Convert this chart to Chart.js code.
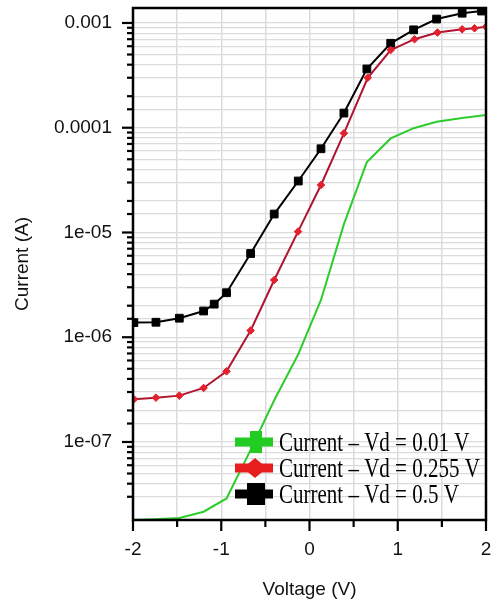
<!DOCTYPE html>
<html>
<head>
<meta charset="utf-8">
<title>Current vs Voltage</title>
<script src="https://cdn.jsdelivr.net/npm/chart.js@4/dist/chart.umd.min.js"></script>
<style>
  html, body { margin: 0; padding: 0; background: #fff; }
  canvas { display: block; }
</style>
</head>
<body>
<canvas id="iv-chart" width="493" height="606"></canvas>
<script>
// Mesures I(V) pour trois tensions de drain
const voltageLow = [-2, -1.74, -1.475, -1.2, -0.94, -0.667, -0.4, -0.13, 0.13, 0.39, 0.65, 0.92, 1.18, 1.44, 1.73, 2.0];
const currentLow = [1.8e-8, 1.83e-8, 1.88e-8, 2.16e-8, 2.89e-8, 8.4e-8, 2.5e-7, 6.8e-7, 2.27e-6, 1.2e-5, 4.7e-5, 7.9e-5, 9.9e-5, 1.14e-4, 1.24e-4, 1.32e-4];

const voltageMid = [-1.99, -1.74, -1.475, -1.2, -0.94, -0.667, -0.4, -0.13, 0.13, 0.39, 0.66, 0.92, 1.19, 1.45, 1.73, 1.87, 2.0];
const currentMid = [2.56e-7, 2.65e-7, 2.77e-7, 3.28e-7, 4.73e-7, 1.16e-6, 3.52e-6, 1.02e-5, 2.84e-5, 8.85e-5, 3.0e-4, 5.52e-4, 7.0e-4, 8.1e-4, 8.7e-4, 8.9e-4, 9.2e-4];

const voltageHigh = [-1.99, -1.74, -1.475, -1.2, -1.08, -0.94, -0.667, -0.4, -0.127, 0.13, 0.39, 0.65, 0.92, 1.18, 1.44, 1.73, 1.95];
const currentHigh = [1.38e-6, 1.39e-6, 1.52e-6, 1.78e-6, 2.07e-6, 2.66e-6, 6.3e-6, 1.5e-5, 3.1e-5, 6.3e-5, 1.38e-4, 3.64e-4, 6.4e-4, 8.6e-4, 1.09e-3, 1.24e-3, 1.3e-3];

const seriesLabels = ['Current \u2013 Vd = 0.01 V', 'Current \u2013 Vd = 0.255 V', 'Current \u2013 Vd = 0.5 V'];

const xTickValues = [-2, -1, 0, 1, 2];
const xTickLabels = ['-2', '-1', '0', '1', '2'];
const yTickValues = [1e-3, 1e-4, 1e-5, 1e-6, 1e-7];
const yTickLabels = ['0.001', '0.0001', '1e-05', '1e-06', '1e-07'];

function toPoints(xs, ys) {
    return xs.map((x, i) => ({ x: x, y: ys[i] }));
}

function labelFor(value, values, labels, relative) {
    for (let i = 0; i < values.length; i++) {
        const diff = Math.abs(value - values[i]);
        if (relative ? diff <= Math.abs(values[i]) * 1e-6 : diff < 1e-9) {
            return labels[i];
        }
    }
    return '';
}

const sansFont = "'Liberation Sans', Arial, sans-serif";

// Cadre, graduations extérieures et légende dans la zone de tracé
const framePlugin = {
    id: 'frameAndLegend',
    afterDraw(chart) {
        const ctx = chart.ctx;
        const area = chart.chartArea;
        const xs = chart.scales.x;
        const ys = chart.scales.y;

        ctx.save();
        ctx.strokeStyle = '#000';
        ctx.lineWidth = 2.5;
        ctx.strokeRect(area.left, area.top, area.right - area.left, area.bottom - area.top);

        // graduations de l'axe Y (log)
        ctx.lineWidth = 2.2;
        ys.ticks.forEach(t => {
            const p = ys.getPixelForValue(t.value);
            if (p < area.top + 1 || p > area.bottom - 1) return;
            const len = labelFor(t.value, yTickValues, yTickLabels, true) ? 11 : 6;
            ctx.beginPath();
            ctx.moveTo(area.left - len, p);
            ctx.lineTo(area.left, p);
            ctx.stroke();
        });

        // graduations de l'axe X
        xs.ticks.forEach(t => {
            const p = xs.getPixelForValue(t.value);
            const len = labelFor(t.value, xTickValues, xTickLabels, false) ? 11 : 7;
            ctx.beginPath();
            ctx.moveTo(p, area.bottom);
            ctx.lineTo(p, area.bottom + len);
            ctx.stroke();
        });

        // légende
        const rows = [442, 468, 494];
        chart.data.datasets.forEach((ds, i) => {
            const cy = rows[i];
            ctx.strokeStyle = ds.legendColor;
            ctx.fillStyle = ds.legendColor;
            ctx.lineWidth = 9;
            ctx.beginPath();
            ctx.moveTo(235, cy);
            ctx.lineTo(273, cy);
            ctx.stroke();
            if (ds.legendMarker === 'diamond') {
                ctx.beginPath();
                ctx.moveTo(243, cy);
                ctx.lineTo(255, cy - 10);
                ctx.lineTo(267, cy);
                ctx.lineTo(255, cy + 10);
                ctx.closePath();
                ctx.fill();
            } else {
                const w = ds.legendMarker === 'wide' ? 18 : 12;
                ctx.fillRect(256 - w / 2, cy - 11, w, 22);
            }
            ctx.fillStyle = '#000';
            ctx.font = "28px 'Liberation Serif', 'Times New Roman', serif";
            ctx.textBaseline = 'alphabetic';
            ctx.save();
            ctx.translate(279, cy + 9);
            ctx.scale(0.75, 1);
            ctx.fillText(ds.label, 0, 0);
            ctx.restore();
        });
        ctx.restore();
    }
};

const ctx = document.getElementById('iv-chart').getContext('2d');
new Chart(ctx, {
    type: 'line',
    data: {
        datasets: [{
            label: seriesLabels[0],
            data: toPoints(voltageLow, currentLow),
            borderColor: '#2ccc2c',
            borderWidth: 2,
            pointRadius: 0,
            legendColor: '#22cc22',
            legendMarker: 'rect'
        }, {
            label: seriesLabels[1],
            data: toPoints(voltageMid, currentMid),
            borderColor: '#b01530',
            borderWidth: 2,
            pointStyle: 'rectRot',
            pointRadius: 3.8,
            pointBackgroundColor: '#e3202b',
            pointBorderColor: '#e3202b',
            pointBorderWidth: 1,
            legendColor: '#e61e1e',
            legendMarker: 'diamond'
        }, {
            label: seriesLabels[2],
            data: toPoints(voltageHigh, currentHigh),
            borderColor: '#000',
            borderWidth: 2,
            pointStyle: 'rect',
            pointRadius: 5.5,
            pointBackgroundColor: '#000',
            pointBorderColor: '#000',
            pointBorderWidth: 1,
            legendColor: '#000',
            legendMarker: 'wide'
        }]
    },
    options: {
        responsive: false,
        animation: false,
        layout: { padding: { top: 8, right: 7, left: 0, bottom: 0 } },
        plugins: {
            legend: { display: false },
            tooltip: { enabled: false }
        },
        elements: { line: { tension: 0 } },
        scales: {
            x: {
                type: 'linear',
                min: -2,
                max: 2,
                afterFit(scale) {
                    scale.height = 86;
                    scale.paddingLeft = 0;
                    scale.paddingRight = 0;
                },
                grid: { color: '#dcdcdc', lineWidth: 1.5, drawTicks: false },
                border: { display: false },
                ticks: {
                    stepSize: 0.5,
                    autoSkip: false,
                    maxRotation: 0,
                    padding: 18,
                    color: '#111',
                    font: { family: sansFont, size: 19 },
                    callback: v => labelFor(v, xTickValues, xTickLabels, false)
                },
                title: {
                    display: true,
                    text: 'Voltage (V)',
                    color: '#111',
                    font: { family: sansFont, size: 19 },
                    padding: { top: 0, bottom: 5 }
                }
            },
            y: {
                type: 'logarithmic',
                min: 1.8e-8,
                max: 1.39e-3,
                afterFit(scale) {
                    scale.width = 133;
                    scale.paddingTop = 0;
                    scale.paddingBottom = 0;
                },
                grid: { color: '#dcdcdc', lineWidth: 1.2, drawTicks: false },
                border: { display: false },
                ticks: {
                    autoSkip: false,
                    padding: 21,
                    color: '#111',
                    font: { family: sansFont, size: 19 },
                    callback: v => labelFor(v, yTickValues, yTickLabels, true)
                },
                title: {
                    display: true,
                    text: 'Current (A)',
                    color: '#111',
                    font: { family: sansFont, size: 19 },
                    padding: { top: 11, bottom: 0 }
                }
            }
        }
    },
    plugins: [framePlugin]
});
</script>
</body>
</html>
